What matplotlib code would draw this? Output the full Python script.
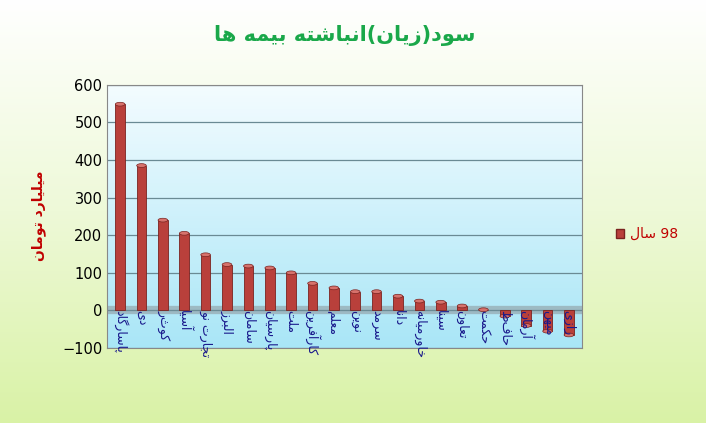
"""
Accumulated profit/loss of insurance companies (bar chart, Persian labels).
"""
import matplotlib.pyplot as plt
import numpy as np
from matplotlib.patches import Ellipse

companies = ["پاسارگاد", "دی", "کوثر", "آسیا", "تجارت نو", "البرز", "سامان", "پارسیان",
             "ملت", "کارآفرین", "معلم", "نوین", "سرمد", "دانا", "خاورمیانه", "سینا",
             "تعاون", "حکمت", "حافظ", "آرمان", "میهن", "رازی"]
values = [548, 385, 240, 205, 148, 122, 118, 113, 100, 72, 60, 50, 50, 38, 25, 22,
          12, 2, -15, -40, -55, -65]
yticks = [-100, 0, 100, 200, 300, 400, 500, 600]

# isolated, final, initial, medial presentation forms
FORMS = {
    "ا": (0xFE8D, 0xFE8E, None, None), "آ": (0xFE81, 0xFE82, None, None),
    "ب": (0xFE8F, 0xFE90, 0xFE91, 0xFE92), "پ": (0xFB56, 0xFB57, 0xFB58, 0xFB59),
    "ت": (0xFE95, 0xFE96, 0xFE97, 0xFE98), "ج": (0xFE9D, 0xFE9E, 0xFE9F, 0xFEA0),
    "چ": (0xFB7A, 0xFB7B, 0xFB7C, 0xFB7D), "ح": (0xFEA1, 0xFEA2, 0xFEA3, 0xFEA4),
    "خ": (0xFEA5, 0xFEA6, 0xFEA7, 0xFEA8), "د": (0xFEA9, 0xFEAA, None, None),
    "ذ": (0xFEAB, 0xFEAC, None, None), "ر": (0xFEAD, 0xFEAE, None, None),
    "ز": (0xFEAF, 0xFEB0, None, None), "ژ": (0xFB8A, 0xFB8B, None, None),
    "س": (0xFEB1, 0xFEB2, 0xFEB3, 0xFEB4), "ش": (0xFEB5, 0xFEB6, 0xFEB7, 0xFEB8),
    "ط": (0xFEC1, 0xFEC2, 0xFEC3, 0xFEC4), "ع": (0xFEC9, 0xFECA, 0xFECB, 0xFECC),
    "ف": (0xFED1, 0xFED2, 0xFED3, 0xFED4), "ق": (0xFED5, 0xFED6, 0xFED7, 0xFED8),
    "ک": (0xFB8E, 0xFB8F, 0xFB90, 0xFB91), "گ": (0xFB92, 0xFB93, 0xFB94, 0xFB95),
    "ل": (0xFEDD, 0xFEDE, 0xFEDF, 0xFEE0), "م": (0xFEE1, 0xFEE2, 0xFEE3, 0xFEE4),
    "ن": (0xFEE5, 0xFEE6, 0xFEE7, 0xFEE8), "و": (0xFEED, 0xFEEE, None, None),
    "ه": (0xFEE9, 0xFEEA, 0xFEEB, 0xFEEC), "ی": (0xFBFC, 0xFBFD, 0xFBFE, 0xFBFF),
}
MIRROR = {"(": ")", ")": "("}


def shape(text: str) -> str:
    """Joins Persian letters into presentation forms and returns visual (LTR) order."""
    out = []
    for i, ch in enumerate(text):
        if ch not in FORMS:
            out.append(MIRROR.get(ch, ch))
            continue
        prev = text[i - 1] if i > 0 else ""
        nxt = text[i + 1] if i + 1 < len(text) else ""
        join_prev = prev in FORMS and FORMS[prev][2] is not None
        join_next = nxt in FORMS and FORMS[ch][2] is not None
        iso, fin, ini, med = FORMS[ch]
        if join_prev and join_next:
            out.append(chr(med))
        elif join_prev:
            out.append(chr(fin))
        elif join_next:
            out.append(chr(ini))
        else:
            out.append(chr(iso))
    return "".join(reversed(out))


plt.rcParams["font.family"] = ["DejaVu Sans"]
fig = plt.figure(figsize=(7.06, 4.23), dpi=100)

# figure background gradient
bg = fig.add_axes([0, 0, 1, 1], zorder=-10)
grad = np.linspace(0, 1, 256)[:, None]
bg.imshow(grad, aspect="auto", cmap=plt.matplotlib.colors.LinearSegmentedColormap.from_list(
    "g", ["#ffffff", "#eef9d8", "#d9f2a6"]), extent=[0, 1, 0, 1], origin="upper")
bg.axis("off")

ax = fig.add_axes([0.152, 0.177, 0.672, 0.623])
x = np.arange(len(companies))
ax.set_xlim(-0.6, len(companies) - 0.4)
ax.set_ylim(-100, 600)
ax.imshow(np.linspace(0, 1, 256)[:, None], aspect="auto",
          cmap=plt.matplotlib.colors.LinearSegmentedColormap.from_list("b", ["#f4fcff", "#a9e6f7"]),
          extent=[-0.6, len(companies) - 0.4, -100, 600], origin="upper", zorder=0)
ax.set_yticks(yticks)
ax.yaxis.grid(True, color="#6a8a94", linewidth=0.9, zorder=1)
ax.axhline(0, color="#8f9ba0", linewidth=6, alpha=0.6, zorder=1)
ax.bar(x, values, width=0.45, color="#b9403b", edgecolor="#7a2320", linewidth=0.6, zorder=3)
for xi, v in zip(x, values):
    ax.add_patch(Ellipse((xi, v), 0.45, 10, facecolor="#d7726c", edgecolor="#7a2320",
                         linewidth=0.5, zorder=4))
ax.set_xticks([])
for xi, name in zip(x, companies):
    ax.text(xi, 0, shape(name), rotation=270, ha="center", va="top", fontsize=9,
            color="#1a1a8c", zorder=5)
for side in ax.spines.values():
    side.set_color("#888888")
ax.tick_params(axis="y", labelsize=10.5, length=0)

fig.text(0.488, 0.915, shape("سود(زیان)انباشته بیمه ها"), ha="center", va="center",
         fontsize=15, fontweight="bold", color="#1aa84a")
fig.text(0.055, 0.49, shape("میلیارد تومان"), rotation=90, ha="center", va="center",
         fontsize=10, fontweight="bold", color="#c00000")
fig.patches.append(plt.Rectangle((0.872, 0.437), 0.012, 0.022, transform=fig.transFigure,
                                 facecolor="#b9403b", edgecolor="#7a2320"))
fig.text(0.892, 0.448, shape("سال") + " 98", ha="left", va="center", fontsize=10,
         color="#c00000")

fig.savefig("out.png")
